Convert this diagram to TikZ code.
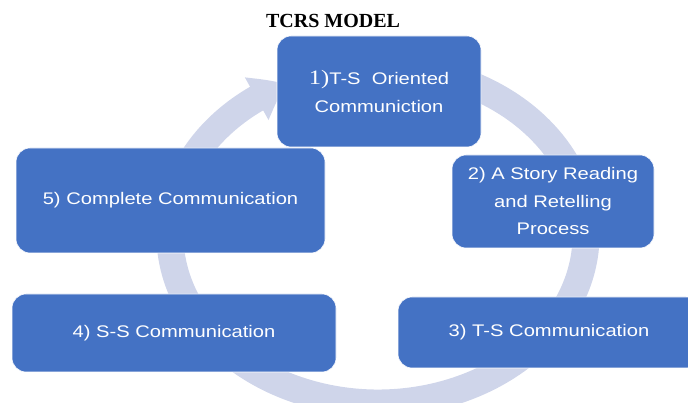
\documentclass[tikz,border=0pt]{standalone}
\usepackage{fontspec}
\usetikzlibrary{arrows.meta,bending}

\newfontfamily\boxfont[FakeStretch=1.2]{Liberation Sans}
\newfontfamily\serifnum[FakeStretch=1.2]{Liberation Serif}
\newfontfamily\titlefont{Liberation Serif}

\definecolor{boxblue}{HTML}{4472C4}
\definecolor{ringblue}{HTML}{CFD5EA}

\begin{document}
\begin{tikzpicture}[
  x = 1pt,
  y = 1pt,
  stage/.style = {
    shape = rectangle,
    rounded corners = 14pt,
    fill = boxblue,
    draw = white,
    line width = 0.6pt,
    text = white,
    align = center,
    inner sep = 0pt,
    font = \boxfont\fontsize{16.8}{27.5}\selectfont
  },
  ring/.style = {
    draw = ringblue,
    line width = 27pt,
    -{Triangle[length = 34pt, width = 46pt, bend]}
  }
]
  \useasboundingbox (0, 0) rectangle (688, 403);
  \clip (0, 0) rectangle (688, 403);

  % cycle arrow behind the stages
  \draw[ring] (378, 168) ++(70:208 and 168)
    arc[start angle = 70, end angle = -244, x radius = 208, y radius = 168];

  \node[stage, minimum width = 204pt, minimum height = 111pt] (oriented) at (379, 311.5)
    {{\serifnum\fontsize{20.5}{27.5}\selectfont 1)}T-S\ \ Oriented\\ Communiction};
  \node[stage, minimum width = 202pt, minimum height = 93pt] (retelling) at (553, 201.5)
    {2) A Story Reading\\ and Retelling\\ Process};
  \node[stage, minimum width = 302pt, minimum height = 71pt] (tscomm) at (549, 70.5)
    {3) T-S Communication};
  \node[stage, minimum width = 324pt, minimum height = 78pt] (sscomm) at (174, 70)
    {4) S-S Communication};
  \node[stage, minimum width = 309pt, minimum height = 105pt] (complete) at (170.5, 202.5)
    {5) Complete Communication};

  \node[font = \titlefont\bfseries\fontsize{20}{24}\selectfont, anchor = base] (title)
    at (333, 375) {TCRS MODEL};
\end{tikzpicture}
\end{document}
